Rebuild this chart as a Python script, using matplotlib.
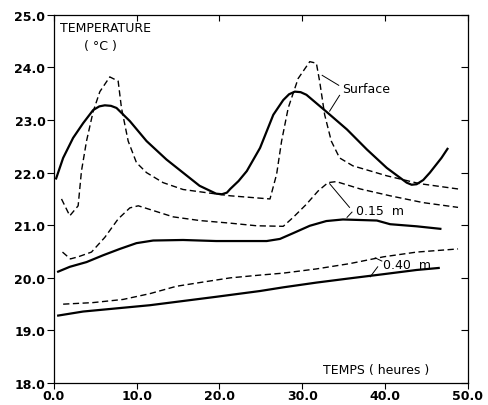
import matplotlib
matplotlib.use('Agg')
import matplotlib.pyplot as plt
import numpy as np

# surface (solid = measured, dashed = computed)
surf_x = [0.24, 1.13, 2.33, 3.54, 4.75, 5.5, 6.16, 6.9, 7.57, 9.18, 11.2, 13.6, 15.6, 17.6, 19.6, 20.3, 20.9,
          21.3, 22.3, 23.3, 24.9, 26.5, 27.7, 28.4, 29.1, 29.8, 30.5, 32.9, 35.4, 37.8, 40.2, 42.6, 43.2, 43.8, 44.6, 45.4, 46.8, 47.6]
surf_y = [21.87, 22.28, 22.66, 22.94, 23.19, 23.26, 23.28, 23.27, 23.23, 22.98, 22.60, 22.25, 22.00, 21.75, 21.60, 21.59, 21.62,
          21.69, 21.84, 22.03, 22.47, 23.10, 23.38, 23.49, 23.54, 23.53, 23.48, 23.16, 22.82, 22.44, 22.09, 21.81, 21.77, 21.78, 21.86, 22.00, 22.28, 22.47]

surf_dx = [0.93, 1.93, 2.94, 3.34, 3.95, 4.75, 5.56, 6.76, 7.77, 8.17, 8.98, 9.98, 11.2, 13.2, 15.6, 18.4,
           21.3, 26.1, 26.9, 27.5, 28.3, 29.5, 30.9, 31.7, 32.1, 32.7, 33.5, 34.5, 36.1, 40.2, 44.2, 48.8]
surf_dy = [21.50, 21.18, 21.37, 22.03, 22.60, 23.16, 23.54, 23.82, 23.74, 23.23, 22.60, 22.19, 22.00, 21.81, 21.68, 21.62,
           21.56, 21.50, 21.97, 22.60, 23.23, 23.79, 24.11, 24.08, 23.73, 23.10, 22.60, 22.28, 22.13, 21.94, 21.79, 21.69]

# 0.15 m
m15_x = [0.4, 1.93, 3.95, 5.96, 7.97, 9.98, 12.0, 15.6, 19.6, 24.9, 25.7, 27.3, 28.9, 30.9, 32.9, 34.9, 39.0, 40.6, 43.8, 46.8]
m15_y = [20.11, 20.21, 20.30, 20.43, 20.55, 20.66, 20.71, 20.72, 20.70, 20.70, 20.70, 20.74, 20.85, 20.99, 21.08, 21.11, 21.09, 21.02, 20.98, 20.93]

m15_dx = [1.05, 2.0, 2.94, 4.55, 6.16, 7.77, 9.18, 10.2, 11.6, 14.4, 17.6, 21.3, 24.5, 27.7, 28.9, 30.5, 31.9, 33.1, 34.1, 37.0, 40.6, 44.6, 48.8]
m15_dy = [20.49, 20.36, 20.40, 20.49, 20.77, 21.12, 21.33, 21.37, 21.30, 21.16, 21.09, 21.04, 20.99, 20.98, 21.15, 21.40, 21.65, 21.81, 21.83, 21.69, 21.56, 21.43, 21.34]

# 0.40 m
m40_x = [0.4, 3.54, 7.57, 11.6, 15.6, 19.6, 24.9, 27.7, 31.7, 35.7, 39.8, 43.8, 46.6]
m40_y = [19.28, 19.36, 19.42, 19.48, 19.56, 19.64, 19.75, 19.82, 19.91, 19.99, 20.07, 20.15, 20.19]

m40_dx = [1.13, 4.75, 8.37, 11.6, 14.8, 18.0, 21.3, 24.7, 27.7, 31.7, 35.7, 39.8, 43.8, 48.8]
m40_dy = [19.50, 19.53, 19.59, 19.70, 19.84, 19.92, 20.00, 20.05, 20.09, 20.17, 20.27, 20.40, 20.49, 20.55]

x_ticks = [0, 10, 20, 30, 40, 50]
y_ticks = [18, 19, 20, 21, 22, 23, 24, 25]

fig = plt.figure(figsize=(4.89, 4.06), dpi=100)
ax = fig.add_axes([0.110, 0.054, 0.847, 0.907])

solid = dict(color='black', lw=1.6, solid_capstyle='butt', solid_joinstyle='round')
dash = dict(color='black', lw=1.0, dashes=(4.5, 2.5))

ax.plot(surf_x, surf_y, **solid)
ax.plot(surf_dx, surf_dy, **dash)
ax.plot(m15_x, m15_y, **solid)
ax.plot(m15_dx, m15_dy, **dash)
ax.plot(m40_x, m40_y, **solid)
ax.plot(m40_dx, m40_dy, **dash)

ax.set_xlim(0, 50)
ax.set_ylim(18, 25)
ax.set_xticks(x_ticks)
ax.set_xticklabels(['%.1f' % v for v in x_ticks])
ax.set_yticks(y_ticks)
ax.set_yticklabels(['%.1f' % v for v in y_ticks])
ax.tick_params(axis='both', labelsize=9, width=0.8, colors='black')
ax.tick_params(axis='x', direction='out', top=True, length=4, pad=0)
ax.tick_params(axis='y', direction='out', right=True, length=5, pad=1)
for lbl in ax.get_xticklabels() + ax.get_yticklabels():
    lbl.set_fontweight('bold')
# inward ticks on top and right
for t in ax.xaxis.get_major_ticks():
    t.tick2line.set_marker(3)
for t in ax.yaxis.get_major_ticks():
    t.tick2line.set_marker(0)
for s in ax.spines.values():
    s.set_linewidth(0.9)

txt = dict(fontsize=9, color='black')
ax.text(0.72, 24.75, 'TEMPERATURE', ha='left', va='center', **txt)
ax.text(3.7, 24.42, '( °C )', ha='left', va='center', **txt)
ax.text(32.5, 18.26, 'TEMPS ( heures )', ha='left', va='center', **txt)
ax.text(34.8, 23.6, 'Surface', ha='left', va='center', **txt)
ax.text(36.5, 21.28, '0.15  m', ha='left', va='center', **txt)
ax.text(39.7, 20.26, '0.40  m', ha='left', va='center', **txt)

lead = dict(color='black', lw=0.7)
ax.plot([34.4, 32.4], [23.66, 23.85], **lead)
ax.plot([34.5, 33.3], [23.47, 23.17], **lead)
ax.plot([35.7, 33.3], [21.34, 21.79], **lead)
ax.plot([36.0, 35.4], [21.25, 21.15], **lead)
ax.plot([39.6, 38.8], [20.32, 20.38], **lead)
ax.plot([39.1, 38.2], [20.21, 20.02], **lead)

fig.savefig('out.png', dpi=100)
